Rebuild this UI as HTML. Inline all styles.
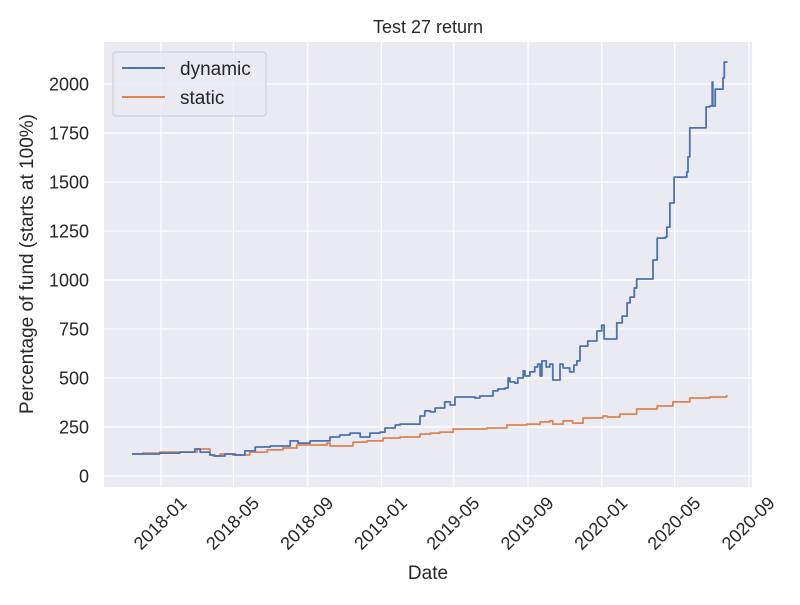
<!DOCTYPE html>
<html><head><meta charset="utf-8"><style>
body{margin:0;background:#fff;}
svg{font-family:"Liberation Sans","DejaVu Sans",sans-serif;}
</style></head><body>
<svg id="chart" width="800" height="600">
<rect x="0" y="0" width="800" height="600" fill="#fff"/>
<rect x="104" y="42" width="648" height="445" fill="#eaeaf2"/>
<g id="grid"></g><g id="series"></g><g id="ticks"></g>
<text x="428" y="33" text-anchor="middle" font-size="18" fill="#262626">Test 27 return</text>
<text x="428" y="579" text-anchor="middle" font-size="19" fill="#262626">Date</text>
<text transform="translate(33,264) rotate(-90)" text-anchor="middle" font-size="19" fill="#262626">Percentage of fund (starts at 100%)</text>
<g>
<rect x="113" y="52" width="153" height="64" rx="3" fill="#eaeaf2" fill-opacity="0.8" stroke="#cccccc"/>
<line x1="122" y1="68" x2="165" y2="68" stroke="#4c72b0" stroke-width="2"/>
<text x="180" y="75" font-size="19" fill="#262626">dynamic</text>
<line x1="122" y1="97" x2="165" y2="97" stroke="#dd8452" stroke-width="2"/>
<text x="180" y="104" font-size="19" fill="#262626">static</text>
</g>
</svg>
<script>
// days since 2018-01-01
const dynDays=[-48,-2,31,56,65,81,89,106,123,139,156,181,214,227,247,280,296,313,330,346,363,371,388,396,412,429,437,446,454,462,470,479,487,512,520,528,545,550,558,570,575,578,586,591,600,603,611,619,624,628,631,638,644,649,654,661,666,677,684,689,694,707,722,730,734,747,755,764,772,777,784,788,812,815,822,835,838,843,850,866,871,873,876,901,903,909,913,914,918,929,931,933,937];
const dynValues=[112,117,122,138,122,107,102,112,107,128,148,153,179,168,179,199,209,219,199,219,224,245,260,265,265,306,332,327,347,347,378,362,403,403,398,408,408,434,444,449,500,480,474,500,536,510,531,556,571,510,587,556,571,490,490,571,551,531,566,587,663,689,740,770,699,699,781,816,883,913,959,1005,1005,1102,1214,1219,1270,1393,1525,1525,1551,1628,1776,1776,1883,1888,2010,1888,1974,1974,2031,2112,2107];
const staDays=[-48,-30,-2,36,60,81,86,98,114,119,131,147,176,202,225,275,280,318,341,368,396,429,446,462,484,540,573,606,628,644,649,666,682,699,732,739,760,788,810,822,848,876,909,937];
const staValues=[112,117,122,122,138,107,102,112,112,107,107,122,133,143,158,168,153,173,179,194,199,214,219,224,240,245,260,265,276,281,265,281,270,296,306,301,316,342,342,357,378,398,403,413];
const yTicks=[0,250,500,750,1000,1250,1500,1750,2000];
const xTickDays=[0,120,243,365,485,608,730,851,974];
const xTickLabels=["2018-01","2018-05","2018-09","2019-01","2019-05","2019-09","2020-01","2020-05","2020-09"];
const NS="http://www.w3.org/2000/svg";
const xs=d=>161+d*0.6037;
const ys=v=>476-v*0.196;
const grid=document.getElementById('grid'),ticks=document.getElementById('ticks'),ser=document.getElementById('series');
yTicks.forEach(t=>{
 const l=document.createElementNS(NS,'line');
 l.setAttribute('x1',104);l.setAttribute('x2',752);l.setAttribute('y1',ys(t));l.setAttribute('y2',ys(t));
 l.setAttribute('stroke','#fff');l.setAttribute('stroke-width','1.3');
 
 
 grid.appendChild(l);
 const tx=document.createElementNS(NS,'text');
 tx.setAttribute('x',89);tx.setAttribute('y',ys(t)+6.5);tx.setAttribute('text-anchor','end');tx.setAttribute('font-size','18');tx.setAttribute('fill','#262626');
 tx.textContent=t;
 
 
 ticks.appendChild(tx);
});
xTickDays.forEach((d,i)=>{
 const x=xs(d);
 const l=document.createElementNS(NS,'line');
 l.setAttribute('x1',x);l.setAttribute('x2',x);l.setAttribute('y1',42);l.setAttribute('y2',487);
 l.setAttribute('stroke','#fff');l.setAttribute('stroke-width','1.3');
 
 
 grid.appendChild(l);
 const tx=document.createElementNS(NS,'text');
 tx.setAttribute('transform',`translate(${x-1},${523}) rotate(-45)`);
 tx.setAttribute('text-anchor','middle');tx.setAttribute('dy','0.35em');tx.setAttribute('font-size','18');tx.setAttribute('fill','#262626');
 tx.textContent=xTickLabels[i];
 
 
 ticks.appendChild(tx);
});
function line(days,vals,color,name){
 const pts=[];
 days.forEach((d,i)=>{
  if(i>0) pts.push(xs(d).toFixed(1)+','+ys(vals[i-1]).toFixed(1));
  pts.push(xs(d).toFixed(1)+','+ys(vals[i]).toFixed(1));
 });
 const p=document.createElementNS(NS,'polyline');
 p.setAttribute('points',pts.join(' '));
 p.setAttribute('fill','none');p.setAttribute('stroke',color);p.setAttribute('stroke-width','1.8');p.setAttribute('stroke-linejoin','round');
 
 
 ser.appendChild(p);
}
line(staDays,staValues,'#dd8452','static-line');
line(dynDays,dynValues,'#4c72b0','dynamic-line');
</script>
</body></html>
